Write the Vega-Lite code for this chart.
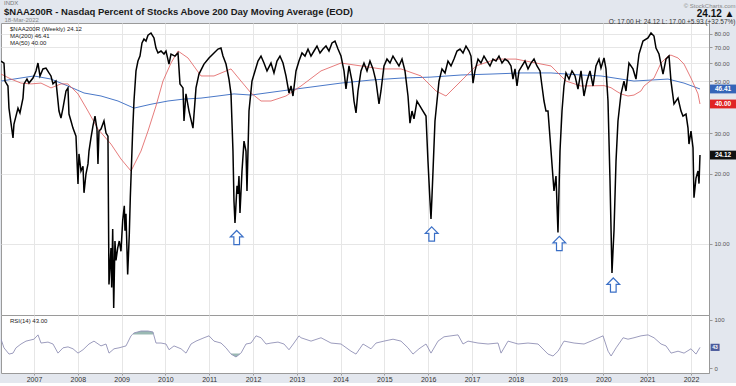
{
  "$schema": "https://vega.github.io/schema/vega-lite/v6.json",
  "background": "#e3e7ee",
  "padding": 0,
  "config": {
    "font": "Liberation Sans",
    "view": {"fill": "white", "stroke": "#9a9a9a"},
    "axis": {"labelFont": "Liberation Sans", "titleFont": "Liberation Sans"},
    "legend": {"labelFont": "Liberation Sans"}
  },
  "title": {
    "text": "INDX",
    "subtitle": "$NAA200R - Nasdaq Percent of Stocks Above 200 Day Moving Average (EOD)",
    "anchor": "start", "frame": "group", "dx": 3,
    "fontSize": 6, "fontWeight": "normal", "color": "#777777",
    "subtitleFontSize": 9.5, "subtitleFontWeight": "bold", "subtitleColor": "#1a1a1a",
    "subtitlePadding": 1, "offset": -15
  },
  "datasets": {
    "price": [
      {"t":2006.247,"v":61.2},{"t":2006.315,"v":60.0},{"t":2006.338,"v":50.2},{"t":2006.406,"v":47.8},{"t":2006.429,"v":38.4},{"t":2006.521,"v":28.6},{"t":2006.543,"v":32.8},{"t":2006.635,"v":38.4},{"t":2006.680,"v":36.6},{"t":2006.749,"v":42.4},{"t":2006.772,"v":48.8},{"t":2006.840,"v":51.2},{"t":2006.886,"v":49.2},{"t":2006.977,"v":51.7},
      {"t":2007.046,"v":55.5},{"t":2007.091,"v":60.0},{"t":2007.137,"v":52.8},{"t":2007.205,"v":56.6},{"t":2007.274,"v":57.1},{"t":2007.342,"v":54.4},{"t":2007.388,"v":52.8},{"t":2007.434,"v":48.8},{"t":2007.502,"v":50.2},{"t":2007.571,"v":37.3},{"t":2007.616,"v":34.8},{"t":2007.662,"v":38.4},{"t":2007.731,"v":45.5},{"t":2007.776,"v":46.9},{"t":2007.799,"v":36.2},{"t":2007.845,"v":33.8},{"t":2007.890,"v":31.5},{"t":2007.959,"v":29.1},
      {"t":2008.005,"v":18.1},{"t":2008.027,"v":24.4},{"t":2008.073,"v":20.6},{"t":2008.119,"v":21.6},{"t":2008.142,"v":16.6},{"t":2008.187,"v":20.0},{"t":2008.233,"v":22.1},{"t":2008.256,"v":25.1},{"t":2008.301,"v":28.6},{"t":2008.347,"v":32.2},{"t":2008.393,"v":35.5},{"t":2008.438,"v":31.2},{"t":2008.461,"v":22.1},{"t":2008.484,"v":30.6},{"t":2008.530,"v":31.2},{"t":2008.598,"v":33.8},{"t":2008.644,"v":30.0},{"t":2008.689,"v":29.1},
      {"t":2008.712,"v":6.7},{"t":2008.758,"v":9.6},{"t":2008.774,"v":6.5},{"t":2008.797,"v":11.6},{"t":2008.820,"v":5.3},{"t":2008.849,"v":10.3},{"t":2008.872,"v":8.5},{"t":2008.911,"v":9.6},{"t":2008.947,"v":10.3},{"t":2008.986,"v":9.3},
      {"t":2009.025,"v":12.6},{"t":2009.062,"v":14.6},{"t":2009.078,"v":11.4},{"t":2009.100,"v":13.5},{"t":2009.139,"v":7.4},{"t":2009.176,"v":11.0},{"t":2009.199,"v":15.8},{"t":2009.253,"v":30.6},{"t":2009.283,"v":41.2},{"t":2009.329,"v":55.5},{"t":2009.374,"v":61.2},{"t":2009.420,"v":64.3},{"t":2009.466,"v":73.2},{"t":2009.511,"v":76.1},{"t":2009.557,"v":74.6},{"t":2009.603,"v":79.1},{"t":2009.671,"v":80.8},{"t":2009.740,"v":76.9},{"t":2009.785,"v":69.6},{"t":2009.831,"v":66.3},{"t":2009.900,"v":67.6},{"t":2009.968,"v":65.6},
      {"t":2010.014,"v":67.6},{"t":2010.082,"v":59.4},{"t":2010.128,"v":65.6},{"t":2010.219,"v":64.3},{"t":2010.288,"v":66.3},{"t":2010.333,"v":48.8},{"t":2010.402,"v":46.9},{"t":2010.425,"v":33.8},{"t":2010.470,"v":44.2},{"t":2010.539,"v":37.3},{"t":2010.630,"v":31.5},{"t":2010.699,"v":46.9},{"t":2010.767,"v":53.8},{"t":2010.881,"v":59.4},{"t":2010.995,"v":63.1},
      {"t":2011.110,"v":66.3},{"t":2011.201,"v":68.9},{"t":2011.269,"v":69.6},{"t":2011.315,"v":64.3},{"t":2011.384,"v":59.4},{"t":2011.452,"v":51.2},{"t":2011.498,"v":44.2},{"t":2011.543,"v":25.1},{"t":2011.566,"v":15.3},{"t":2011.589,"v":12.3},{"t":2011.635,"v":17.8},{"t":2011.658,"v":16.4},{"t":2011.680,"v":19.6},{"t":2011.703,"v":13.6},{"t":2011.749,"v":20.6},{"t":2011.795,"v":27.7},{"t":2011.840,"v":25.1},{"t":2011.863,"v":16.9},{"t":2011.909,"v":37.3},{"t":2011.977,"v":50.2},
      {"t":2012.046,"v":55.5},{"t":2012.114,"v":61.2},{"t":2012.183,"v":64.3},{"t":2012.251,"v":60.0},{"t":2012.320,"v":55.5},{"t":2012.411,"v":60.0},{"t":2012.479,"v":54.4},{"t":2012.548,"v":61.2},{"t":2012.616,"v":64.3},{"t":2012.685,"v":60.0},{"t":2012.753,"v":52.8},{"t":2012.822,"v":44.6},{"t":2012.868,"v":47.8},{"t":2012.913,"v":43.3},{"t":2012.982,"v":55.5},
      {"t":2013.050,"v":61.2},{"t":2013.119,"v":66.3},{"t":2013.187,"v":64.3},{"t":2013.256,"v":68.9},{"t":2013.324,"v":64.3},{"t":2013.393,"v":67.6},{"t":2013.461,"v":71.0},{"t":2013.530,"v":66.3},{"t":2013.598,"v":68.9},{"t":2013.667,"v":71.0},{"t":2013.735,"v":67.6},{"t":2013.804,"v":73.2},{"t":2013.872,"v":74.6},{"t":2013.941,"v":68.9},
      {"t":2014.009,"v":64.3},{"t":2014.078,"v":55.5},{"t":2014.123,"v":46.4},{"t":2014.192,"v":58.3},{"t":2014.260,"v":50.2},{"t":2014.306,"v":41.2},{"t":2014.352,"v":36.6},{"t":2014.397,"v":45.5},{"t":2014.466,"v":55.5},{"t":2014.534,"v":60.0},{"t":2014.603,"v":55.5},{"t":2014.671,"v":61.2},{"t":2014.740,"v":56.6},{"t":2014.808,"v":50.2},{"t":2014.877,"v":40.0},{"t":2014.922,"v":45.5},{"t":2014.991,"v":58.3},
      {"t":2015.059,"v":62.4},{"t":2015.128,"v":60.0},{"t":2015.196,"v":64.3},{"t":2015.265,"v":61.2},{"t":2015.333,"v":58.3},{"t":2015.402,"v":62.4},{"t":2015.470,"v":55.5},{"t":2015.539,"v":43.3},{"t":2015.584,"v":33.1},{"t":2015.630,"v":37.3},{"t":2015.676,"v":34.5},{"t":2015.744,"v":41.2},{"t":2015.813,"v":39.2},{"t":2015.881,"v":37.3},{"t":2015.950,"v":35.5},{"t":2015.995,"v":22.7},
      {"t":2016.041,"v":15.3},{"t":2016.064,"v":12.8},{"t":2016.087,"v":16.1},{"t":2016.110,"v":20.6},{"t":2016.155,"v":33.8},{"t":2016.201,"v":41.2},{"t":2016.247,"v":50.2},{"t":2016.315,"v":56.6},{"t":2016.384,"v":54.4},{"t":2016.452,"v":61.2},{"t":2016.521,"v":58.3},{"t":2016.589,"v":62.4},{"t":2016.658,"v":67.6},{"t":2016.726,"v":68.9},{"t":2016.795,"v":66.3},{"t":2016.863,"v":71.0},{"t":2016.932,"v":67.6},{"t":2016.977,"v":64.3},
      {"t":2017.023,"v":49.2},{"t":2017.068,"v":55.5},{"t":2017.137,"v":62.4},{"t":2017.205,"v":60.0},{"t":2017.274,"v":64.3},{"t":2017.342,"v":61.2},{"t":2017.411,"v":58.3},{"t":2017.479,"v":62.4},{"t":2017.548,"v":61.2},{"t":2017.616,"v":64.3},{"t":2017.685,"v":60.0},{"t":2017.753,"v":62.4},{"t":2017.822,"v":61.2},{"t":2017.890,"v":58.3},{"t":2017.936,"v":51.2},{"t":2017.982,"v":56.6},
      {"t":2018.027,"v":47.8},{"t":2018.073,"v":55.5},{"t":2018.142,"v":58.3},{"t":2018.210,"v":61.2},{"t":2018.279,"v":56.6},{"t":2018.347,"v":60.0},{"t":2018.416,"v":62.4},{"t":2018.484,"v":58.3},{"t":2018.553,"v":55.5},{"t":2018.598,"v":47.8},{"t":2018.644,"v":41.2},{"t":2018.689,"v":37.3},{"t":2018.735,"v":37.3},{"t":2018.804,"v":25.1},{"t":2018.872,"v":16.9},{"t":2018.918,"v":19.6},{"t":2018.963,"v":11.2},{"t":2018.986,"v":16.9},
      {"t":2019.009,"v":25.1},{"t":2019.055,"v":37.3},{"t":2019.100,"v":47.8},{"t":2019.146,"v":54.4},{"t":2019.215,"v":51.2},{"t":2019.283,"v":55.5},{"t":2019.352,"v":52.8},{"t":2019.420,"v":46.4},{"t":2019.489,"v":55.5},{"t":2019.557,"v":43.3},{"t":2019.626,"v":50.2},{"t":2019.694,"v":55.5},{"t":2019.763,"v":47.8},{"t":2019.831,"v":58.3},{"t":2019.900,"v":62.4},{"t":2019.945,"v":57.1},
      {"t":2020.014,"v":63.1},{"t":2020.059,"v":56.6},{"t":2020.105,"v":41.2},{"t":2020.151,"v":18.7},{"t":2020.196,"v":7.5},{"t":2020.219,"v":9.3},{"t":2020.242,"v":11.4},{"t":2020.288,"v":22.7},{"t":2020.333,"v":33.8},{"t":2020.402,"v":44.2},{"t":2020.470,"v":50.2},{"t":2020.516,"v":45.5},{"t":2020.584,"v":60.0},{"t":2020.676,"v":56.6},{"t":2020.744,"v":51.2},{"t":2020.813,"v":65.6},{"t":2020.904,"v":74.6},
      {"t":2021.018,"v":76.9},{"t":2021.087,"v":80.8},{"t":2021.155,"v":78.4},{"t":2021.201,"v":69.6},{"t":2021.269,"v":65.6},{"t":2021.361,"v":53.8},{"t":2021.429,"v":62.4},{"t":2021.498,"v":64.3},{"t":2021.543,"v":50.2},{"t":2021.612,"v":40.0},{"t":2021.703,"v":42.4},{"t":2021.772,"v":37.3},{"t":2021.817,"v":35.5},{"t":2021.886,"v":36.2},{"t":2021.932,"v":31.5},{"t":2021.954,"v":26.9},
      {"t":2022.000,"v":30.6},{"t":2022.046,"v":25.9},{"t":2022.068,"v":15.8},{"t":2022.114,"v":19.2},{"t":2022.160,"v":20.6},{"t":2022.183,"v":18.19},{"t":2022.205,"v":24.12}
    ],
    "ma200": [
      {"t":2006.247,"v":50.2},{"t":2007.0,"v":52.8},{"t":2007.388,"v":51.2},{"t":2007.776,"v":47.8},{"t":2008.142,"v":44.6},{"t":2008.530,"v":43.3},{"t":2008.918,"v":41.2},{"t":2009.283,"v":38.4},{"t":2009.671,"v":39.9},{"t":2010.059,"v":41.2},{"t":2010.425,"v":42.0},{"t":2010.813,"v":42.4},{"t":2011.201,"v":43.3},{"t":2011.566,"v":44.2},{"t":2011.954,"v":43.7},{"t":2012.639,"v":45.5},{"t":2013.324,"v":47.3},{"t":2014.009,"v":49.2},{"t":2014.694,"v":50.7},{"t":2015.379,"v":51.7},{"t":2016.064,"v":52.2},{"t":2016.749,"v":53.3},{"t":2017.434,"v":53.8},{"t":2018.119,"v":54.4},{"t":2018.804,"v":54.4},{"t":2019.489,"v":53.3},{"t":2019.945,"v":52.8},{"t":2020.699,"v":50.2},{"t":2021.087,"v":50.7},{"t":2021.475,"v":51.2},{"t":2021.840,"v":49.2},{"t":2022.205,"v":46.41}
    ],
    "ma50": [
      {"t":2006.247,"v":53.8},{"t":2006.475,"v":51.2},{"t":2006.703,"v":49.2},{"t":2006.932,"v":48.8},{"t":2007.160,"v":49.2},{"t":2007.388,"v":46.9},{"t":2007.616,"v":48.8},{"t":2007.776,"v":48.8},{"t":2008.005,"v":44.2},{"t":2008.233,"v":37.3},{"t":2008.461,"v":31.2},{"t":2008.758,"v":26.9},{"t":2008.986,"v":23.2},{"t":2009.215,"v":20.6},{"t":2009.443,"v":25.1},{"t":2009.603,"v":30.6},{"t":2009.785,"v":39.2},{"t":2009.945,"v":50.2},{"t":2010.128,"v":60.0},{"t":2010.288,"v":67.6},{"t":2010.516,"v":63.1},{"t":2010.813,"v":52.8},{"t":2011.110,"v":52.8},{"t":2011.498,"v":56.6},{"t":2011.726,"v":50.2},{"t":2011.954,"v":44.6},{"t":2012.183,"v":41.2},{"t":2012.411,"v":41.2},{"t":2012.753,"v":43.3},{"t":2013.096,"v":47.8},{"t":2013.553,"v":55.5},{"t":2014.009,"v":60.0},{"t":2014.466,"v":58.3},{"t":2014.922,"v":56.6},{"t":2015.379,"v":56.6},{"t":2015.836,"v":52.8},{"t":2016.178,"v":45.5},{"t":2016.406,"v":43.3},{"t":2016.749,"v":50.2},{"t":2017.091,"v":58.3},{"t":2017.548,"v":62.4},{"t":2018.005,"v":62.4},{"t":2018.461,"v":60.0},{"t":2018.804,"v":58.3},{"t":2019.146,"v":50.2},{"t":2019.489,"v":47.8},{"t":2020.014,"v":48.0},{"t":2020.174,"v":47.0},{"t":2020.288,"v":45.5},{"t":2020.402,"v":44.2},{"t":2020.562,"v":43.3},{"t":2020.699,"v":43.7},{"t":2020.858,"v":45.5},{"t":2020.927,"v":47.8},{"t":2021.155,"v":51.7},{"t":2021.315,"v":60.0},{"t":2021.475,"v":64.3},{"t":2021.543,"v":64.9},{"t":2021.703,"v":63.1},{"t":2021.840,"v":59.4},{"t":2022.000,"v":51.7},{"t":2022.160,"v":44.2},{"t":2022.205,"v":40.0}
    ],
    "rsi": [
      {"t":2006.247,"r":60},{"t":2006.315,"r":42},{"t":2006.430,"r":29},{"t":2006.521,"r":31},{"t":2006.589,"r":42},{"t":2006.704,"r":50},{"t":2006.818,"r":56},{"t":2007.000,"r":60},{"t":2007.092,"r":69},{"t":2007.160,"r":52},{"t":2007.320,"r":54},{"t":2007.434,"r":50},{"t":2007.548,"r":31},{"t":2007.663,"r":42},{"t":2007.777,"r":44},{"t":2007.891,"r":40},{"t":2008.005,"r":31},{"t":2008.119,"r":38},{"t":2008.256,"r":50},{"t":2008.370,"r":56},{"t":2008.530,"r":46},{"t":2008.644,"r":50},{"t":2008.713,"r":31},{"t":2008.827,"r":40},{"t":2008.941,"r":42},{"t":2009.101,"r":46},{"t":2009.215,"r":67},{"t":2009.249,"r":70},{"t":2009.284,"r":73},{"t":2009.443,"r":77},{"t":2009.603,"r":77},{"t":2009.717,"r":75},{"t":2009.731,"r":70},{"t":2009.786,"r":52},{"t":2009.900,"r":52},{"t":2010.014,"r":50},{"t":2010.083,"r":38},{"t":2010.197,"r":46},{"t":2010.357,"r":40},{"t":2010.471,"r":31},{"t":2010.585,"r":50},{"t":2010.699,"r":56},{"t":2010.882,"r":63},{"t":2010.996,"r":67},{"t":2011.110,"r":56},{"t":2011.270,"r":52},{"t":2011.384,"r":42},{"t":2011.489,"r":30},{"t":2011.498,"r":29},{"t":2011.612,"r":23},{"t":2011.713,"r":30},{"t":2011.726,"r":31},{"t":2011.841,"r":50},{"t":2011.955,"r":52},{"t":2012.069,"r":67},{"t":2012.183,"r":63},{"t":2012.297,"r":50},{"t":2012.411,"r":52},{"t":2012.571,"r":54},{"t":2012.708,"r":50},{"t":2012.822,"r":38},{"t":2012.936,"r":52},{"t":2013.050,"r":67},{"t":2013.096,"r":63},{"t":2013.325,"r":56},{"t":2013.553,"r":63},{"t":2013.781,"r":52},{"t":2014.010,"r":50},{"t":2014.238,"r":35},{"t":2014.352,"r":29},{"t":2014.512,"r":50},{"t":2014.694,"r":40},{"t":2014.809,"r":52},{"t":2014.991,"r":56},{"t":2015.197,"r":60},{"t":2015.379,"r":56},{"t":2015.539,"r":42},{"t":2015.653,"r":29},{"t":2015.790,"r":40},{"t":2015.950,"r":50},{"t":2016.064,"r":31},{"t":2016.224,"r":56},{"t":2016.361,"r":65},{"t":2016.521,"r":67},{"t":2016.681,"r":69},{"t":2016.795,"r":50},{"t":2016.909,"r":56},{"t":2017.137,"r":52},{"t":2017.366,"r":50},{"t":2017.594,"r":52},{"t":2017.663,"r":31},{"t":2017.823,"r":56},{"t":2018.051,"r":50},{"t":2018.279,"r":52},{"t":2018.507,"r":50},{"t":2018.736,"r":29},{"t":2018.850,"r":25},{"t":2018.964,"r":35},{"t":2019.101,"r":56},{"t":2019.330,"r":52},{"t":2019.558,"r":50},{"t":2019.718,"r":56},{"t":2019.992,"r":67},{"t":2020.107,"r":35},{"t":2020.176,"r":25},{"t":2020.290,"r":42},{"t":2020.450,"r":63},{"t":2020.562,"r":60},{"t":2020.699,"r":63},{"t":2020.859,"r":67},{"t":2021.019,"r":69},{"t":2021.156,"r":63},{"t":2021.316,"r":50},{"t":2021.430,"r":46},{"t":2021.545,"r":31},{"t":2021.704,"r":35},{"t":2021.841,"r":31},{"t":2022.000,"r":40},{"t":2022.114,"r":29},{"t":2022.206,"r":43}
    ],
    "arrows": [
      {"t":2011.628,"v":10.66},{"t":2016.080,"v":11.04},{"t":2018.994,"v":10.05},{"t":2020.226,"v":6.66}
    ],
    "tags": [
      {"name":"MA(200)","v":46.41,"label":"46.41"},{"name":"MA(50)","v":40.0,"label":"40.00"},{"name":"$NAA200R","v":24.12,"label":"24.12"}
    ],
    "rsitag": [{"r":43,"label":"43"}]
  },
  "bounds": "flush",
  "spacing": 0,
  "resolve": {"scale": {"color": "independent", "fill": "independent", "x": "independent", "y": "independent"}},
  "vconcat": [
    {
      "width": 708,
      "height": 292,
      "layer": [
        {
          "data": {"name": "ma200"},
          "mark": {"type": "line", "strokeWidth": 1, "clip": true},
          "encoding": {
            "x": {"field": "t", "type": "quantitative",
              "scale": {"domain": [2006.247, 2022.411], "nice": false, "zero": false},
              "axis": {"orient": "top", "values": [2007,2008,2009,2010,2011,2012,2013,2014,2015,2016,2017,2018,2019,2020,2021,2022],
                "grid": true, "gridColor": "#e6e6e6", "labels": false, "ticks": false, "domain": false,
                "title": "18-Mar-2022", "titleX": 3, "titleY": -2, "titleAlign": "left", "titleAngle": 0,
                "titleFontSize": 6, "titleColor": "#888888", "titleFontWeight": "normal", "titleBaseline": "alphabetic"}},
            "y": {"field": "v", "type": "quantitative",
              "scale": {"type": "log", "domain": [4.95, 89.2], "nice": false},
              "axis": {"orient": "right", "values": [10,20,30,50,60,70,80], "format": ".2f",
                "labelFontSize": 6, "labelColor": "#555555", "tickSize": 3, "tickColor": "#999999", "labelPadding": 2,
                "grid": true, "gridColor": "#e6e6e6", "domainColor": "#999999",
                "title": "© StockCharts.com", "titleX": 26, "titleY": -16, "titleAlign": "right", "titleAngle": 0,
                "titleFontSize": 6, "titleColor": "#888888", "titleFontWeight": "normal", "titleBaseline": "alphabetic"}},
            "color": {"datum": "MA(200) 46.41",
              "scale": {"domain": ["$NAA200R (Weekly) 24.12", "MA(200) 46.41", "MA(50) 40.00"], "range": ["#000000", "#4a78c8", "#e05a5a"]},
              "legend": {"orient": "top-left", "title": null, "offset": 3, "padding": 0, "rowPadding": 1,
                "labelFontSize": 6, "labelColor": "#222222", "symbolSize": 1, "symbolOpacity": 0, "symbolStrokeWidth": 0, "labelOffset": 0}}
          }
        },
        {
          "data": {"name": "ma50"},
          "mark": {"type": "line", "strokeWidth": 0.8, "clip": true},
          "encoding": {
            "x": {"field": "t", "type": "quantitative"},
            "y": {"field": "v", "type": "quantitative"},
            "color": {"datum": "MA(50) 40.00"}
          }
        },
        {
          "mark": {"type": "rule", "color": "#000000", "strokeWidth": 1.2},
          "encoding": {"y": {"datum": 15.2}}
        },
        {
          "mark": {"type": "rule", "color": "#000000", "strokeWidth": 2},
          "encoding": {"y": {"datum": 4.95}}
        },
        {
          "data": {"name": "price"},
          "mark": {"type": "line", "strokeWidth": 1.5, "clip": true},
          "encoding": {
            "x": {"field": "t", "type": "quantitative"},
            "y": {"field": "v", "type": "quantitative"},
            "color": {"datum": "$NAA200R (Weekly) 24.12"}
          }
        },
        {
          "data": {"name": "arrows"},
          "mark": {"type": "point", "shape": "M0,-1L0.9,-0.1L0.4,-0.1L0.4,1L-0.4,1L-0.4,-0.1L-0.9,-0.1Z", "size": 200,
            "filled": true, "fill": "#ffffff", "stroke": "#3a6fc6", "strokeWidth": 1.2, "opacity": 1},
          "encoding": {
            "x": {"field": "t", "type": "quantitative"},
            "y": {"field": "v", "type": "quantitative"}
          }
        },
        {
          "data": {"name": "tags"},
          "mark": {"type": "point", "shape": "M-1,-0.34L1,-0.34L1,0.34L-1,0.34Z", "size": 676, "filled": true, "opacity": 1, "strokeWidth": 0},
          "encoding": {
            "x": {"datum": 2022.731, "type": "quantitative"},
            "y": {"field": "v", "type": "quantitative"},
            "fill": {"field": "name", "type": "nominal",
              "scale": {"domain": ["MA(200)", "MA(50)", "$NAA200R"], "range": ["#3565b8", "#e02424", "#111111"]},
              "legend": null}
          }
        },
        {
          "data": {"name": "tags"},
          "mark": {"type": "text", "color": "#ffffff", "fontSize": 6.5, "fontWeight": "bold", "align": "center", "baseline": "middle"},
          "encoding": {
            "x": {"datum": 2022.731, "type": "quantitative"},
            "y": {"field": "v", "type": "quantitative"},
            "text": {"field": "label"}
          }
        }
      ]
    },
    {
      "width": 708,
      "height": 58,
      "layer": [
        {
          "data": {"name": "rsi"},
          "transform": [{"filter": "datum.t >= 2009.24 && datum.t <= 2009.74"}],
          "mark": {"type": "area", "color": "#8fb1ab", "opacity": 0.9},
          "encoding": {
            "x": {"field": "t", "type": "quantitative",
              "scale": {"domain": [2006.247, 2022.411], "nice": false, "zero": false},
              "axis": {"orient": "bottom", "values": [2007,2008,2009,2010,2011,2012,2013,2014,2015,2016,2017,2018,2019,2020,2021,2022],
                "format": "d", "labelFontSize": 7, "labelColor": "#333333", "grid": true, "gridColor": "#e6e6e6",
                "tickSize": 2, "tickColor": "#999999", "domain": false, "labelPadding": 0,
                "title": "24.12 ▲", "titleX": 733, "titleY": -357, "titleAlign": "right", "titleAngle": 0,
                "titleFontSize": 10, "titleFontWeight": "bold", "titleColor": "#111111", "titleBaseline": "alphabetic"}},
            "y": {"field": "r", "type": "quantitative",
              "scale": {"domain": [-10.4, 110.4], "nice": false, "zero": false},
              "axis": {"orient": "right", "values": [0,25,50,75,100], "labelFontSize": 6, "labelColor": "#555555",
                "tickSize": 3, "tickColor": "#999999", "labelPadding": 2, "grid": false, "domainColor": "#999999",
                "title": "O: 17.00   H: 24.12   L: 17.00   +5.93 (+32.57%)", "titleX": 26, "titleY": -292, "titleAlign": "right", "titleAngle": 0,
                "titleFontSize": 6.5, "titleFontWeight": "normal", "titleColor": "#333333", "titleBaseline": "alphabetic"}},
            "y2": {"datum": 70}
          }
        },
        {
          "data": {"name": "rsi"},
          "transform": [{"filter": "datum.t >= 2011.48 && datum.t <= 2011.72"}],
          "mark": {"type": "area", "color": "#8fb1ab", "opacity": 0.9},
          "encoding": {
            "x": {"field": "t", "type": "quantitative"},
            "y": {"field": "r", "type": "quantitative"},
            "y2": {"datum": 30}
          }
        },
        {
          "mark": {"type": "rule", "color": "#8c8c8c", "strokeWidth": 1},
          "encoding": {"y": {"datum": 70}}
        },
        {
          "mark": {"type": "rule", "color": "#8c8c8c", "strokeWidth": 1},
          "encoding": {"y": {"datum": 30}}
        },
        {
          "mark": {"type": "rule", "color": "#555555", "strokeWidth": 0.8, "strokeDash": [3, 2]},
          "encoding": {"y": {"datum": 50}}
        },
        {
          "data": {"name": "rsi"},
          "mark": {"type": "line", "strokeWidth": 0.9, "clip": true},
          "encoding": {
            "x": {"field": "t", "type": "quantitative"},
            "y": {"field": "r", "type": "quantitative"},
            "color": {"datum": "RSI(14) 43.00",
              "scale": {"domain": ["RSI(14) 43.00"], "range": ["#9191b5"]},
              "legend": {"orient": "top-left", "title": null, "offset": 3, "padding": 0,
                "labelFontSize": 6, "labelColor": "#222222", "symbolSize": 1, "symbolOpacity": 0, "symbolStrokeWidth": 0, "labelOffset": 0}}
          }
        },
        {
          "mark": {"type": "rect", "fill": null, "fillOpacity": 0, "stroke": "#2f5f9f", "strokeWidth": 1.5},
          "encoding": {
            "x": {"datum": 2021.338, "type": "quantitative"},
            "x2": {"datum": 2022.297},
            "y": {"datum": 70.6, "type": "quantitative"},
            "y2": {"datum": 10.5}
          }
        },
        {
          "data": {"name": "rsitag"},
          "mark": {"type": "point", "shape": "M-1,-0.8L1,-0.8L1,0.8L-1,0.8Z", "size": 81, "filled": true, "fill": "#4b5b9c", "opacity": 1, "strokeWidth": 0},
          "encoding": {
            "x": {"datum": 2022.55, "type": "quantitative"},
            "y": {"field": "r", "type": "quantitative"}
          }
        },
        {
          "data": {"name": "rsitag"},
          "mark": {"type": "text", "color": "#ffffff", "fontSize": 5, "fontWeight": "bold", "align": "center", "baseline": "middle"},
          "encoding": {
            "x": {"datum": 2022.55, "type": "quantitative"},
            "y": {"field": "r", "type": "quantitative"},
            "text": {"field": "label"}
          }
        }
      ]
    }
  ]
}
